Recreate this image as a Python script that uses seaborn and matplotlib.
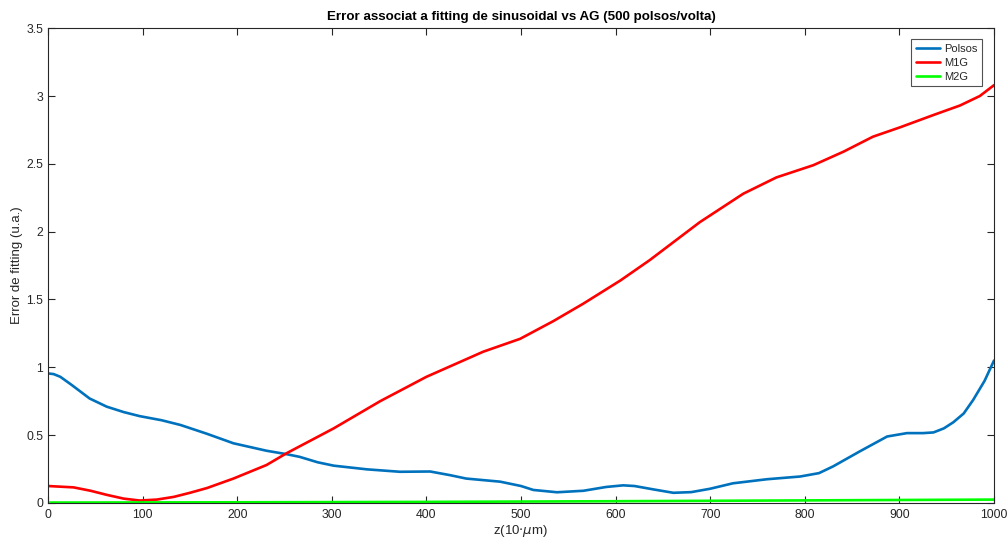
import matplotlib
matplotlib.use("Agg")
import matplotlib.pyplot as plt
import seaborn as sns
import pandas as pd

# Fitting error of the sinusoidal model vs GA, sampled along z
z_polsos = [0, 6, 13, 25, 44, 62, 80, 97, 120, 140, 168, 196, 231, 252, 266, 285,
            302, 337, 372, 404, 425, 442, 478, 500, 513, 538, 566, 590, 608, 620,
            640, 661, 680, 700, 724, 760, 795, 815, 830, 858, 887, 908, 925, 936,
            947, 957, 968, 978, 990, 1000]
err_polsos = [0.955, 0.95, 0.93, 0.87, 0.77, 0.71, 0.67, 0.64, 0.61, 0.575, 0.51,
              0.44, 0.385, 0.36, 0.34, 0.30, 0.275, 0.248, 0.23, 0.232, 0.205,
              0.18, 0.157, 0.125, 0.096, 0.079, 0.09, 0.118, 0.13, 0.125, 0.10,
              0.075, 0.08, 0.105, 0.145, 0.175, 0.195, 0.22, 0.27, 0.38, 0.49,
              0.515, 0.515, 0.52, 0.55, 0.595, 0.66, 0.76, 0.9, 1.05]

z_m1g = [0, 27, 45, 62, 80, 97, 115, 133, 150, 168, 196, 231, 252, 302, 351, 400,
         460, 499, 534, 566, 605, 636, 689, 735, 770, 809, 841, 872, 901, 936,
         964, 985, 1000]
err_m1g = [0.125, 0.115, 0.09, 0.06, 0.032, 0.018, 0.025, 0.045, 0.075, 0.11,
           0.18, 0.28, 0.366, 0.55, 0.75, 0.93, 1.115, 1.21, 1.34, 1.47, 1.64,
           1.79, 2.07, 2.28, 2.40, 2.49, 2.59, 2.70, 2.77, 2.86, 2.93, 3.0, 3.08]

z_m2g = [0, 200, 400, 600, 800, 1000]
err_m2g = [0.003, 0.005, 0.008, 0.013, 0.019, 0.025]

series_names = ["Polsos", "M1G", "M2G"]
series_colors = ["#0072BD", "#FF0000", "#00FF00"]

df = pd.concat([
    pd.DataFrame({"z": z_polsos, "err": err_polsos, "serie": series_names[0]}),
    pd.DataFrame({"z": z_m1g, "err": err_m1g, "serie": series_names[1]}),
    pd.DataFrame({"z": z_m2g, "err": err_m2g, "serie": series_names[2]}),
], ignore_index=True)

sns.set_theme(style="white")
plt.rcParams["font.family"] = ["Liberation Sans", "DejaVu Sans"]
plt.rcParams["lines.solid_joinstyle"] = "round"

fig = plt.figure(figsize=(10.07, 5.42), dpi=100)
ax = fig.add_axes([0.0477, 0.072, 0.9394, 0.876])

sns.lineplot(data=df, x="z", y="err", hue="serie", palette=dict(zip(series_names, series_colors)),
             hue_order=series_names, linewidth=1.9, ax=ax, sort=False, estimator=None)

ax.set_xlim(0, 1000)
ax.set_ylim(0, 3.5)
ax.set_xticks(range(0, 1001, 100))
ax.set_yticks([0, 0.5, 1, 1.5, 2, 2.5, 3, 3.5])
ax.set_yticklabels(["0", "0.5", "1", "1.5", "2", "2.5", "3", "3.5"])

tick_col = "#262626"
ax.tick_params(axis="both", direction="in", length=5, width=0.8, colors=tick_col,
               labelsize=8.8, top=True, right=True, bottom=True, left=True)
ax.tick_params(axis="y", pad=3.5)
ax.tick_params(axis="x", pad=4)
for sp in ax.spines.values():
    sp.set_color(tick_col)
    sp.set_linewidth(0.8)

ax.set_xlabel(r"z(10$\cdot\mu$m)", fontsize=9.5, color=tick_col, labelpad=2)
ax.set_ylabel("Error de fitting (u.a.)", fontsize=9.5, color=tick_col, labelpad=2)
ax.set_title("Error associat a fitting de sinusoidal vs AG (500 polsos/volta)",
             fontsize=9.6, fontweight="bold", color="black", pad=6)

leg = ax.legend(loc="upper right", fontsize=8, frameon=True, fancybox=False,
                borderpad=0.42, handlelength=2.2, handletextpad=0.3, labelspacing=0.36,
                bbox_to_anchor=(0.987, 0.977), title=None, borderaxespad=0.0)
leg.get_frame().set_edgecolor(tick_col)
leg.get_frame().set_linewidth(0.8)
for line in leg.get_lines():
    line.set_linewidth(1.9)

fig.savefig("out.png", dpi=100)
